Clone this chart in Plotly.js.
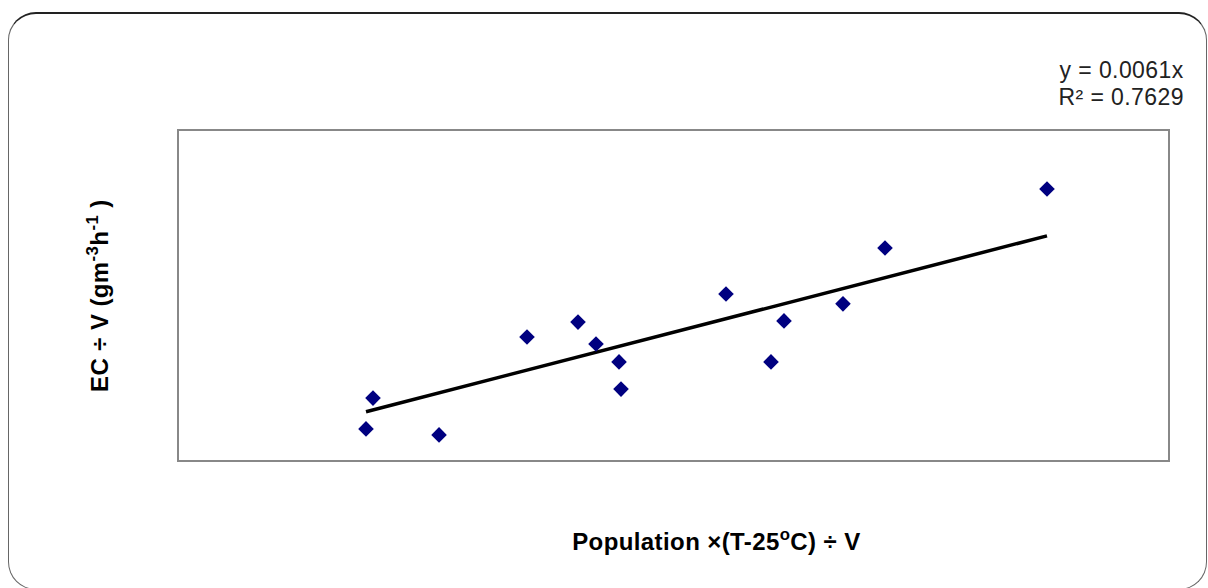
<!DOCTYPE html>
<html>
<head>
<meta charset="utf-8">
<script src="https://cdn.plot.ly/plotly-3.0.1.min.js"></script>
<style>
html,body{margin:0;padding:0;background:#fff;}
#frame{position:absolute;left:8px;top:12px;width:1199px;height:578px;border:1.5px solid #666;border-top:2px solid #222;border-radius:28px;box-sizing:border-box;}
#chart{position:absolute;left:0;top:0;width:1208px;height:588px;}
#chart .annotation-text{letter-spacing:0.4px;}
</style>
</head>
<body>
<div id="frame"></div>
<div id="chart"></div>
<script>
const xValues = [264.7, 274.6, 368.1, 492.6, 564.8, 590.3, 622.9, 625.7, 774.3, 838.0, 856.4, 939.9, 999.4, 1228.7];
const yValues = [1.04, 2.07, 0.84, 4.11, 4.61, 3.88, 3.28, 2.37, 5.55, 3.28, 4.65, 5.22, 7.09, 9.06];
const slope = 0.0061;
const rSquared = 0.7629;

const xMin = Math.min(...xValues), xMax = Math.max(...xValues);
const trendX = [xMin, xMax];
const trendY = trendX.map(v => slope * v);

const data = [
  {x: trendX, y: trendY, type: 'scatter', mode: 'lines',
   line: {color: '#000', width: 3.5}, hoverinfo: 'skip'},
  {x: xValues, y: yValues, type: 'scatter', mode: 'markers',
   marker: {symbol: 'diamond', size: 12, color: '#000080'}}
];

const layout = {
  width: 1208, height: 588,
  paper_bgcolor: 'rgba(0,0,0,0)', plot_bgcolor: '#fff',
  margin: {l: 179, r: 40, t: 131, b: 128},
  showlegend: false,
  font: {family: 'Liberation Sans, Arial, sans-serif', color: '#000'},
  xaxis: {range: [0, 1400], showgrid: false, zeroline: false, showticklabels: false, ticks: '',
          showline: true, mirror: true, linecolor: '#888', linewidth: 2},
  yaxis: {range: [0, 11], showgrid: false, zeroline: false, showticklabels: false, ticks: '',
          showline: true, mirror: true, linecolor: '#888', linewidth: 2},
  annotations: [
    {xref: 'paper', yref: 'paper', x: 1.0, y: 1.0, xshift: 18, yshift: 61, xanchor: 'right', yanchor: 'middle', align: 'right',
     showarrow: false, text: 'y = ' + slope.toFixed(4) + 'x', font: {size: 23, color: '#222'}},
    {xref: 'paper', yref: 'paper', x: 1.0, y: 1.0, xshift: 18, yshift: 34, xanchor: 'right', yanchor: 'middle', align: 'right',
     showarrow: false, text: 'R² = ' + rSquared.toFixed(4), font: {size: 23, color: '#222'}},
    {xref: 'paper', yref: 'paper', x: (716-179)/989, y: 0, yshift: -80, xanchor: 'center', yanchor: 'middle',
     showarrow: false, text: '<b>Population ×(T-25<sup>o</sup>C) ÷ V</b>', font: {size: 24}},
    {xref: 'paper', yref: 'paper', x: 0, y: 0.5, xshift: -82, xanchor: 'center', yanchor: 'middle', textangle: -90,
     showarrow: false, text: '<b>EC ÷ V (gm<sup>-3</sup>h<sup>-1</sup> )</b>', font: {size: 24}}
  ]
};

Plotly.newPlot('chart', data, layout, {displayModeBar: false, staticPlot: true});
</script>
</body>
</html>
